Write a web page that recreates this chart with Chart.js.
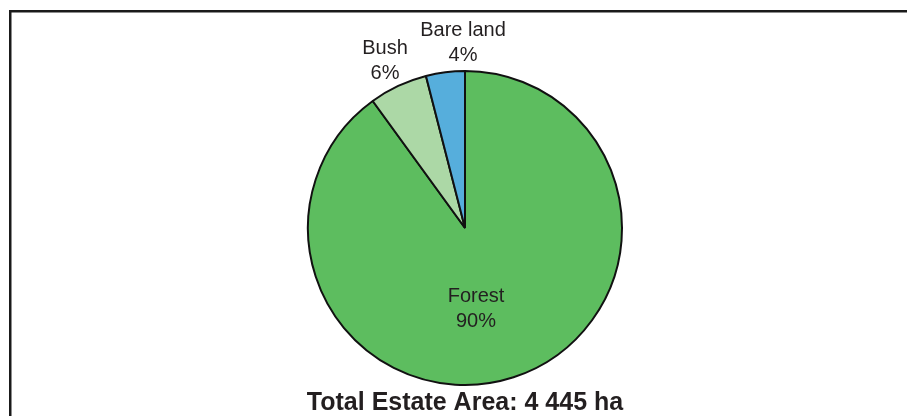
<!DOCTYPE html>
<html>
<head>
<meta charset="utf-8">
<script src="https://cdn.jsdelivr.net/npm/chart.js@4.4.0/dist/chart.umd.min.js"></script>
<style>
  html, body { margin: 0; padding: 0; background: #fff; }
  #wrap { position: relative; width: 907px; height: 416px; }
</style>
</head>
<body>
<div id="wrap"><canvas id="chart" width="907" height="416"></canvas></div>
<script>
// data
const categories = ['Forest', 'Bush', 'Bare land'];
const shares = [90, 6, 4];
const sliceColors = ['#5dbd5f', '#acd8a6', '#56aedc'];
const chartTitle = 'Total Estate Area: 4 445 ha';

// label placement relative to pie centre (x offset, baseline of first line)
const labelSpots = [
    { dx: 11, dy: 74 },
    { dx: -80, dy: -174 },
    { dx: -2, dy: -192 },
];

const textColor = '#231f20';

const pieLabels = {
    id: 'pieLabels',
    beforeDraw: (chart) => {
        const { ctx } = chart;
        ctx.save();
        ctx.fillStyle = '#fff';
        ctx.fillRect(0, 0, chart.width, chart.height);
        // frame, only top and left edges show
        ctx.fillStyle = '#1a1a1a';
        ctx.fillRect(9, 10, chart.width, 2.5);
        ctx.fillRect(9, 10, 2.5, chart.height);
        ctx.restore();
    },
    afterDraw: (chart) => {
        const { ctx } = chart;
        const arcs = chart.getDatasetMeta(0).data;
        const cx = arcs[0].x, cy = arcs[0].y;
        ctx.save();
        ctx.fillStyle = textColor;
        ctx.textAlign = 'center';
        ctx.textBaseline = 'alphabetic';
        ctx.font = '20px "Liberation Sans", Arial, sans-serif';
        categories.forEach((name, i) => {
            const s = labelSpots[i];
            ctx.fillText(name, cx + s.dx, cy + s.dy);
            ctx.fillText(shares[i] + '%', cx + s.dx, cy + s.dy + 25);
        });
        ctx.font = 'bold 25px "Liberation Sans", Arial, sans-serif';
        ctx.fillText(chartTitle, cx, 410);
        ctx.restore();
    },
};

new Chart(document.getElementById('chart'), {
    type: 'pie',
    data: {
        labels: categories,
        datasets: [{
            data: shares,
            backgroundColor: sliceColors,
            borderColor: '#111',
            borderWidth: 2,
            hoverOffset: 0,
            offset: 0,
        }],
    },
    options: {
        responsive: false,
        animation: false,
        events: [],
        layout: { padding: { top: 70, bottom: 30, left: 307, right: 284 } },
        plugins: {
            legend: { display: false },
            tooltip: { enabled: false },
            title: { display: false },
        },
    },
    plugins: [pieLabels],
});
</script>
</body>
</html>
